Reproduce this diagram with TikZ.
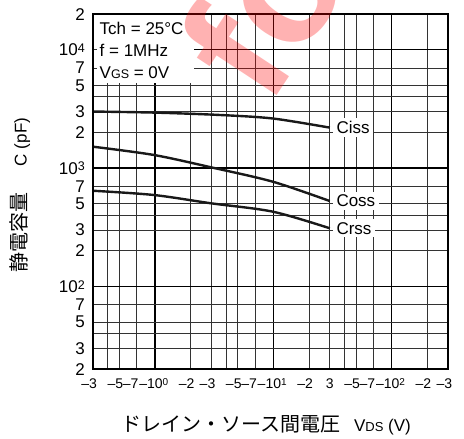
\documentclass[tikz,border=0pt]{standalone}
\usepackage{fontspec}
\setmainfont{Liberation Sans}
\newfontfamily\jpfont{Noto Sans CJK JP}
\usepackage{tikz}

\newcommand\decp[1]{10\raisebox{3.4pt}{\fontsize{12.5}{12}\selectfont #1}}
\newcommand\decx[1]{\llap{--}10\rlap{\raisebox{3.5pt}{\fontsize{10}{10}\selectfont #1}}}

\begin{document}
\begin{tikzpicture}[x=118.4pt,y=118.4pt,
		gridline/.style={line width=0.9pt,black!80},
		decline/.style={line width=1.4pt,black},
		curve/.style={line width=2.4pt,black!90},
		tag/.style={fill=white,anchor=west,xshift=3pt,inner xsep=3.5pt,inner ysep=3pt,font=\fontsize{17}{17}\selectfont},
		ylab/.style={anchor=east,inner sep=0pt,xshift=-8pt,font=\fontsize{17}{17}\selectfont},
		xlab/.style={anchor=base,inner sep=0pt,yshift=-19.7pt,font=\fontsize{14}{14}\selectfont},
		legend/.style={anchor=base west,inner sep=0pt,font=\fontsize{17}{17}\selectfont}]
	\useasboundingbox (-93pt,-69.7pt) rectangle (371pt,369.3pt);
	\foreach \v in {0.4,0.5,0.7,2,3,4,5,7,20,30,40,50,70,200}
		\draw[gridline] ({log10(\v/0.3)},0) -- ++(0,3);
	\foreach \v in {1,10,100}
		\draw[decline] ({log10(\v/0.3)},0) -- ++(0,3);
	\foreach \c in {3,4,5,7,20,30,40,50,70,200,300,400,500,700}
		\draw[gridline] (0,{log10(\c/2)}) -- ++(3,0);
	\foreach \c in {10,100,1000}
		\draw[decline] (0,{log10(\c/2)}) -- ++(3,0);
	\fill[white] (0,2.418) rectangle (0.853,3);
	\foreach \c in {700,1000}
		\draw[gridline] (0,{log10(\c/2)}) -- ++(4pt,0);
	\node[legend] (tch) at (6.5pt,334.3pt) {Tch = 25°C};
	\node[legend] (freq) at (6.5pt,312.6pt) {f = 1MHz};
	\node[legend] (vgs) at (6.5pt,291pt) {V{\fontsize{12.5}{12}\selectfont GS} = 0V};
	\draw[curve] plot[smooth] coordinates {(0,2.177) (0.52,2.168) (1.07,2.148) (1.52,2.118) (2,2.041)};
	\draw[curve] plot[smooth] coordinates {(0,1.880) (0.515,1.810) (0.997,1.706) (1.52,1.584) (2,1.421)};
	\draw[curve] plot[smooth] coordinates {(0,1.508) (0.515,1.472) (0.997,1.402) (1.52,1.331) (2,1.191)};
	\coordinate (cissend) at (2,2.041);
	\coordinate (cossend) at (2,1.421);
	\coordinate (crssend) at (2,1.191);
	\node[tag] (ciss) at (cissend) {Ciss};
	\node[tag] (coss) at (cossend) {Coss};
	\node[tag] (crss) at (crssend) {Crss};
	\draw[line width=2.4pt] (0,0) rectangle (3,3);
	\foreach \c/\t [count=\i] in {2/2,3/3,5/5,7/7,10/\decp{2},20/2,30/3,50/5,70/7,100/\decp{3},200/2,300/3,500/5,700/7,1000/\decp{4},2000/2}
		\node[ylab] (yl\i) at (0,{log10(\c/2)}) {\t};
	\foreach \v/\t/\s [count=\i] in {0.3/\llap{--}3/0,0.5/\llap{--}5/0,0.7/\llap{--}7/-2,1/\decx{0}/0,2/\llap{--}2/0,3/\llap{--}3/0,5/\llap{--}5/0,7/\llap{--}7/-2,10/\decx{1}/0,20/\llap{--}2/0,30/3/0,50/\llap{--}5/0,70/\llap{--}7/-2,100/\decx{2}/0,200/\llap{--}2/0,300/\llap{--}3/0}
		\node[xlab,xshift=\s pt] (xl\i) at ({log10(\v/0.3)},0) {\t};
	\node[rotate=90] (ytitle) at (-0.6166,1.472) {{\jpfont\fontsize{20}{20}\selectfont 静電容量}\hspace{26pt}{\fontsize{17}{17}\selectfont C (pF)}};
	\node (xtitle) at (1.461,-0.470) {{\jpfont\fontsize{20}{20}\selectfont ドレイン・ソース間電圧}\hspace{14pt}{\fontsize{17}{17}\selectfont V{\fontsize{13}{13}\selectfont DS} (V)}};
	\begin{scope}
		\clip (-93pt,-69.7pt) rectangle (371pt,369.3pt);
		\node[rotate=56.6,anchor=base west,inner sep=0pt,text=red,opacity=0.3,font=\fontsize{165}{165}\selectfont\bfseries] (mark) at (175.5pt,260.3pt) {fo};
	\end{scope}
\end{tikzpicture}
\end{document}
